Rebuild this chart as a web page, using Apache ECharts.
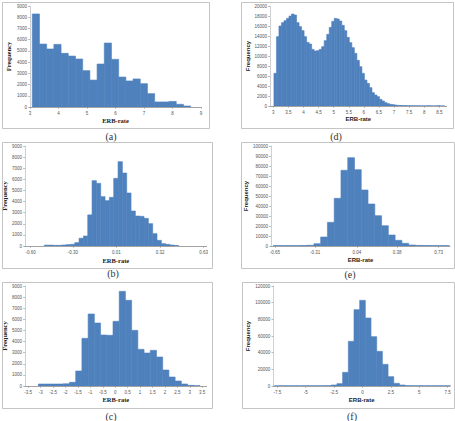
<!DOCTYPE html>
<html><head><meta charset="utf-8">
<script src="https://cdn.jsdelivr.net/npm/echarts@6/dist/echarts.min.js"></script>
<style>html,body{margin:0;padding:0;background:#fff}#c{width:455px;height:421px}</style>
</head><body><div id="c"></div>
<script>
// ---------- (a) ----------
const aBinStart = 3.08, aBinWidth = 0.2526;
const aCounts = [8290,5610,5170,5580,4780,4540,4280,3240,2400,3830,5700,4250,2670,2320,2500,2080,1190,450,450,500,240,90];
const aTicks = [3,4,5,6,7,8,9];
// ---------- (d) ----------
const dBinStart = 3.02, dBinWidth = 0.0833;
const dCounts = [6530,13870,16000,16670,17070,17530,18000,18400,18200,16670,15870,15070,13870,12730,12400,11330,11000,11070,11330,11870,13070,14330,15730,16930,17530,17400,17000,16130,15070,13730,12670,11670,10530,9130,7870,6530,5200,4530,3670,2670,2200,1870,1330,1000,670,470,330,270,200,130,100,90,80,60,50,50,40,40,30,30,30,60,30,20,20,60,20,10];
const dTicks = [3,3.5,4,4.5,5,5.5,6,6.5,7,7.5,8,8.5];
// ---------- (b) ----------
const bBinStart = -0.502, bBinWidth = 0.0308;
const bCounts = [80,80,60,60,90,120,150,300,700,900,2800,5880,5640,4440,4080,4380,6090,7590,6570,4770,3150,2700,2670,2490,2010,1110,510,210,150,90,40];
const bTicks = [-0.60,-0.30,0.01,0.32,0.63];
// ---------- (e) ----------
const eBinStart = -0.663, eBinWidth = 0.057;
const eCounts = [400,400,400,400,500,700,2300,9000,23700,47700,75700,88300,76300,56000,42000,30300,20300,11000,5700,2700,1000,600,500,400,400,400];
const eTicks = [-0.65,-0.31,0.04,0.38,0.73];
// ---------- (c) ----------
const cBinStart = -3.09, cBinWidth = 0.25;
const cCounts = [180,180,180,180,200,330,1350,4290,6480,5670,4590,4560,5820,8520,7710,5010,3300,2970,3210,2610,1440,810,450,180,60,30];
const cTicks = [-3.5,-3,-2.5,-2,-1.5,-1,-0.5,0,0.5,1,1.5,2,2.5,3,3.5];
// ---------- (f) ----------
const fBinStart = -7.75, fBinWidth = 0.5;
const fCounts = [300,300,300,300,300,300,300,300,300,400,1200,2800,16400,53600,91600,102800,81600,59200,41600,26000,11200,3200,1200,400,300,300,300,300,300,300,300];
const fTicks = [-7.5,-5,-2.5,0,2.5,5,7.5];

const BLUE = '#4F81BD';
function bins(start, width, counts) {
  return counts.map((c, i) => [start + i * width, start + (i + 1) * width, c]);
}
function renderBar(params, api) {
  const p0 = api.coord([api.value(0), api.value(2)]);
  const p1 = api.coord([api.value(1), 0]);
  return { type: 'rect',
    shape: { x: p0[0], y: p0[1], width: p1[0] - p0[0], height: p1[1] - p0[1] },
    style: { fill: BLUE, stroke: BLUE, lineWidth: 0.6 } };
}

const panels = [
  { grid:[30,6,171,101], xr:[3,9], ticks:aTicks, fmt:v=>String(v), ymax:9000, yint:1000, data:bins(aBinStart,aBinWidth,aCounts), serif:true, ng:9.5, yg:18 },
  { grid:[270,6,176.7,100], xr:[2.89,8.745], ticks:dTicks, fmt:v=>String(v), ymax:20000, yint:2000, data:bins(dBinStart,dBinWidth,dCounts), serif:false, ng:10, yg:17 },
  { grid:[25,146,181.7,100], xr:[-0.640,0.652], ticks:bTicks, fmt:v=>v.toFixed(2), ymax:9000, yint:1000, data:bins(bBinStart,bBinWidth,bCounts), serif:true, ng:10.5, yg:13.5 },
  { grid:[271,146,179,100], xr:[-0.682,0.825], ticks:eTicks, fmt:v=>v.toFixed(2), ymax:100000, yint:10000, data:bins(eBinStart,eBinWidth,eCounts), serif:false, ng:11, yg:18.5 },
  { grid:[25,286,181.7,100], xr:[-3.63,3.68], ticks:cTicks, fmt:v=>String(v), ymax:9000, yint:1000, data:bins(cBinStart,cBinWidth,cCounts), serif:true, ng:10, yg:14 },
  { grid:[273.3,286,176.7,100], xr:[-7.85,7.70], ticks:fTicks, fmt:v=>String(v), ymax:120000, yint:20000, data:bins(fBinStart,fBinWidth,fCounts), serif:false, ng:11, yg:20 }
];

const captions = [['(a)',111,136],['(d)',336,136],['(b)',113,273.5],['(e)',350,274],['(c)',111,416.5],['(f)',352,416.5]];
const frames = [[2,2,207,126],[241,2,212,126],[2,142,210,126],[241,142,213,126],[2,282,210,126],[242,282,212,126]];

const SERIF = '"Liberation Serif", "DejaVu Serif", serif';
const SANS = '"Liberation Sans", Arial, sans-serif';
const option = {
  animation: false,
  backgroundColor: '#fff',
  grid: panels.map(p => ({ left: p.grid[0], top: p.grid[1], width: p.grid[2], height: p.grid[3], containLabel: false })),
  xAxis: panels.map((p, i) => ({
    type: 'value', gridIndex: i, min: p.xr[0], max: p.xr[1],
    name: 'ERB-rate', nameLocation: 'middle', nameGap: p.ng,
    nameTextStyle: { fontFamily: p.serif ? SERIF : SANS, fontWeight: 'bold', fontSize: p.serif ? 6.5 : 6, color: '#222' },
    axisLine: { show: true, onZero: false, lineStyle: { color: '#8c8c8c', width: 0.8 } },
    axisTick: { show: true, length: 1.8, lineStyle: { color: '#8c8c8c', width: 0.6 }, customValues: p.ticks },
    axisLabel: { fontSize: 4.5, color: '#555', margin: 3.5, customValues: p.ticks, formatter: p.fmt, fontFamily: SANS },
    splitLine: { show: false }
  })),
  yAxis: panels.map((p, i) => ({
    type: 'value', gridIndex: i, min: 0, max: p.ymax, interval: p.yint,
    name: 'Frequency', nameLocation: 'middle', nameGap: p.yg, nameRotate: 90,
    nameTextStyle: { fontFamily: p.serif ? SERIF : SANS, fontWeight: 'bold', fontSize: p.serif ? 6.5 : 6, color: '#222' },
    axisLine: { show: true, onZero: false, lineStyle: { color: '#b0b0b0', width: 0.6 } },
    axisTick: { show: true, length: 1.8, lineStyle: { color: '#8c8c8c', width: 0.6 } },
    axisLabel: { fontSize: 4.5, color: '#555', margin: 3, formatter: v => String(v), fontFamily: SANS },
    splitLine: { show: false }
  })),
  series: panels.map((p, i) => ({
    type: 'custom', xAxisIndex: i, yAxisIndex: i, clip: true,
    renderItem: renderBar, encode: { x: [0, 1], y: 2 }, data: p.data
  })),
  graphic: [
    ...frames.map(f => ({ type: 'rect', silent: true, shape: { x: f[0] + 0.5, y: f[1] + 0.5, width: f[2], height: f[3] },
      style: { fill: 'none', stroke: '#c4c4c4', lineWidth: 1 } })),
    ...captions.map(c => ({ type: 'text', x: c[1], y: c[2],
      style: { text: c[0], align: 'center', verticalAlign: 'middle', font: '10px ' + SERIF, fill: '#333' } }))
  ]
};
const chart = echarts.init(document.getElementById('c'), null, { renderer: 'svg', width: 455, height: 421 });
chart.setOption(option);
</script>
</body></html>
